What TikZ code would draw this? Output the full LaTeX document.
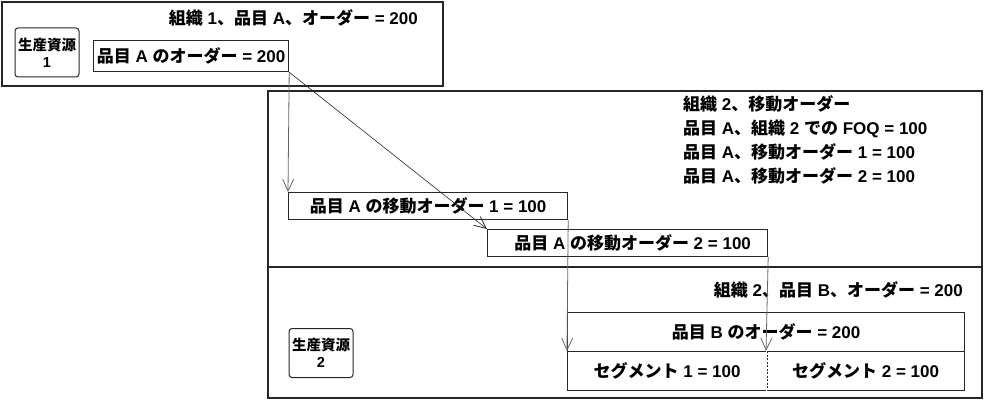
\documentclass[tikz,border=0pt]{standalone}
\usepackage{fontspec}
\setmainfont{Noto Sans CJK JP}
\newfontfamily\latinfont{Liberation Sans}
\newcommand\lt[1]{{\latinfont #1}}
\usetikzlibrary{arrows.meta}
\tikzset{
  box/.style={draw=black!85, line width=1.2pt},
  txt/.style={font=\fontsize{17}{24}\selectfont\bfseries},
  plain/.style={inner sep=0pt, txt},
  tbox/.style={box, inner sep=0pt, anchor=north west, txt},
  res/.style={draw=black!85, line width=1pt, rounded corners=3pt, minimum width=64pt, minimum height=49pt, inner sep=0pt, align=center, font=\fontsize{14.5}{17}\selectfont\bfseries},
  arr/.style={line width=0.8pt, draw=black!60, -{Straight Barb[length=12pt,width=11pt,line width=0.8pt]}},
  darr/.style={line width=0.6pt, draw=black!85, -{Straight Barb[length=12pt,width=11pt,line width=0.8pt]}},
}
\begin{document}
\begin{tikzpicture}[x=1pt,y=-1pt]
\useasboundingbox (0,0) rectangle (985,401);
% organisation 1
\draw[box] (2,2) rectangle (443,86);
\node[plain, anchor=east] (t1) at (418,18) {組織\lt{ 1}、品目\lt{ A}、オーダー\lt{ = 200}};
\node[res] (r1) at (47,52.5) {生産資源\\\lt{1}};
\node[tbox, minimum width=195pt, minimum height=31pt] (oa) at (93,40) {品目\lt{ A }のオーダー\lt{ = 200}};
% organisation 2
\draw[box] (268,91) rectangle (982,267);
\draw[box] (268,267) rectangle (982,398);
\node[plain, anchor=north west, align=left] (t2) at (683,95) {組織\lt{ 2}、移動オーダー\\品目\lt{ A}、組織\lt{ 2 }での\lt{ FOQ = 100}\\品目\lt{ A}、移動オーダー\lt{ 1 = 100}\\品目\lt{ A}、移動オーダー\lt{ 2 = 100}};
\node[tbox, minimum width=279pt, minimum height=27pt] (m1) at (288,192) {品目\lt{ A }の移動オーダー\lt{ 1 = 100}};
\node[tbox, minimum width=280pt, minimum height=27pt] (m2) at (487,229) {\hspace{10pt}品目\lt{ A }の移動オーダー\lt{ 2 = 100}};
\node[plain, anchor=east] (t3) at (963,290) {組織\lt{ 2}、品目\lt{ B}、オーダー\lt{ = 200}};
\node[tbox, minimum width=397pt, minimum height=39pt] (ob) at (567,312) {品目\lt{ B }のオーダー\lt{ = 200}};
\node[tbox, minimum width=199pt, minimum height=39pt] (s1) at (567,351) {セグメント\lt{ 1 = 100}};
\node[tbox, minimum width=198pt, minimum height=39pt] (s2) at (766,351) {セグメント\lt{ 2 = 100}};
\draw[white, line width=1.6pt] (s1.north east) -- (s1.south east);
\draw[black!85, line width=0.8pt, dash pattern=on 2pt off 1.5pt] (s1.north east) -- (s1.south east);
\node[res] (r2) at (321,353) {生産資源\\\lt{2}};
% arrows
\draw[arr] (oa.south east) -- (m1.north west);
\draw[darr] (oa.south east) -- (m2.north west);
\draw[arr] (m1.south east) -- (s1.north west);
\draw[arr] (m2.south east) -- (s2.north west);
\end{tikzpicture}
\end{document}
